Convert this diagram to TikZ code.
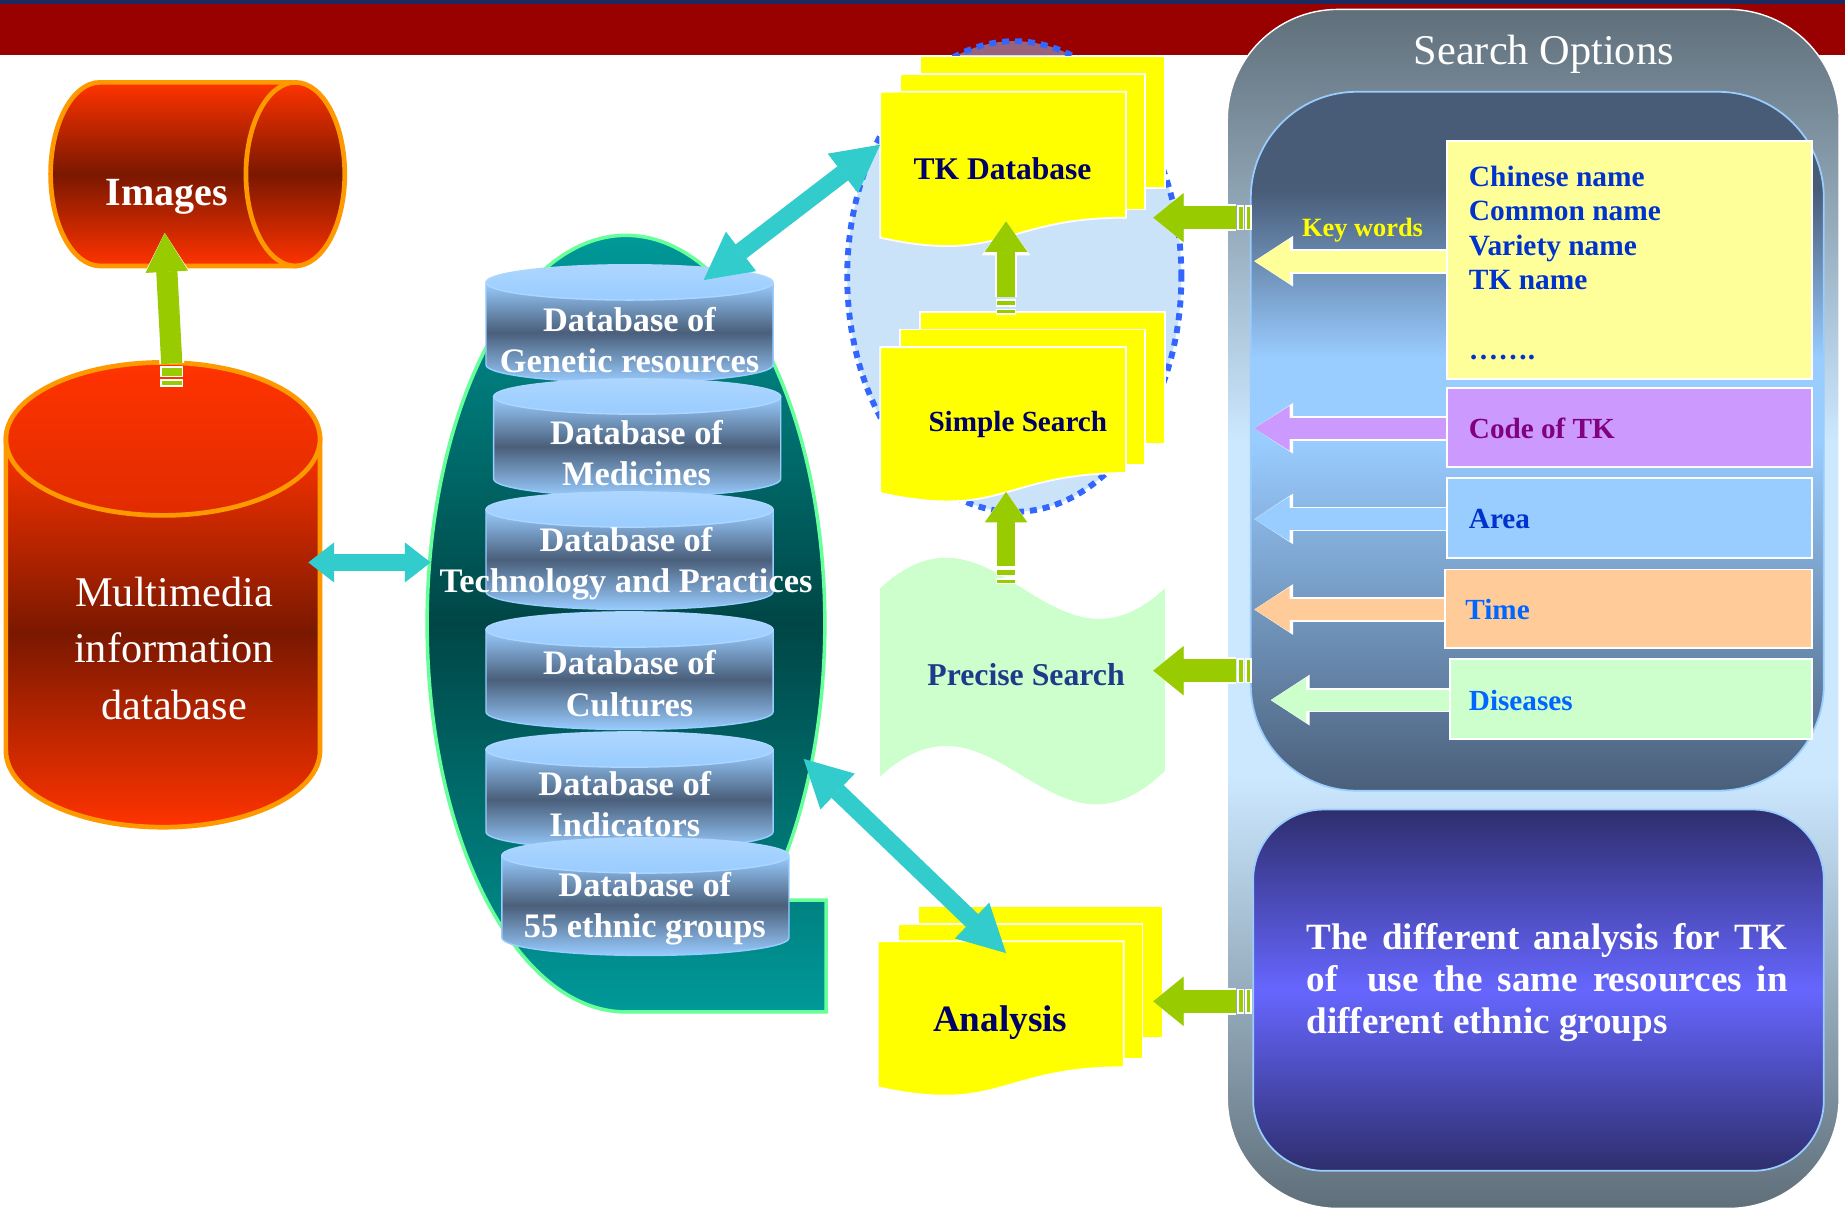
\documentclass[tikz,border=0pt]{standalone}
\usepackage{fontspec}
\setmainfont{Liberation Serif}
\usetikzlibrary{arrows.meta}

\definecolor{topnavy}{HTML}{1B2A5E}
\definecolor{barred}{HTML}{990000}
\definecolor{cylred}{HTML}{FF3300}
\definecolor{cyltop}{HTML}{E02C00}
\definecolor{cylbrown}{HTML}{7A1800}
\definecolor{cylorange}{HTML}{FF9900}
\definecolor{arrowgreen}{HTML}{99CC00}
\definecolor{arrowcyan}{HTML}{33CCCC}
\definecolor{ovteal}{HTML}{009999}
\definecolor{ovdark}{HTML}{004646}
\definecolor{ovgreen}{HTML}{66FF99}
\definecolor{dbblue}{HTML}{99CCFF}
\definecolor{dblight}{HTML}{ADD6FF}
\definecolor{dbslate}{HTML}{4A5F7A}
\definecolor{ringblue}{HTML}{3366FF}
\definecolor{ringfill}{HTML}{99C8F5}
\definecolor{docyellow}{HTML}{FFFF00}
\definecolor{docnavy}{HTML}{000066}
\definecolor{wavegreen}{HTML}{CCFFCC}
\definecolor{precnavy}{HTML}{1F3A8A}
\definecolor{optslate}{HTML}{5F6F7A}
\definecolor{optpale}{HTML}{CCE8FF}
\definecolor{panslate}{HTML}{485C78}
\definecolor{panblue}{HTML}{99CCFF}
\definecolor{lownavy}{HTML}{2E2E6E}
\definecolor{lowviolet}{HTML}{6666FF}
\definecolor{kwyellow}{HTML}{FFFF99}
\definecolor{codepurple}{HTML}{CC99FF}
\definecolor{areablue}{HTML}{99CCFF}
\definecolor{timeorange}{HTML}{FFCC99}
\definecolor{disgreen}{HTML}{CCFFCC}
\definecolor{listblue}{HTML}{0033CC}
\definecolor{brightblue}{HTML}{0066FF}
\definecolor{codetext}{HTML}{800080}

% the path box is the band from 25bp to 75bp
\pgfdeclareverticalshading{optshade}{100bp}{color(0bp)=(optslate); color(25bp)=(optslate);
  color(43bp)=(optpale); color(57bp)=(optpale); color(75bp)=(optslate); color(100bp)=(optslate)}
\pgfdeclareverticalshading{redshade}{100bp}{color(0bp)=(cylred); color(25bp)=(cylred);
  color(50bp)=(cylbrown); color(75bp)=(cylred); color(100bp)=(cylred)}
\pgfdeclareverticalshading{redtopshade}{100bp}{color(0bp)=(cyltop); color(25bp)=(cyltop);
  color(75bp)=(cylred); color(100bp)=(cylred)}
\pgfdeclareverticalshading{ovalshade}{100bp}{color(0bp)=(ovteal); color(25bp)=(ovteal);
  color(50bp)=(ovdark); color(75bp)=(ovteal); color(100bp)=(ovteal)}
\pgfdeclareverticalshading{drumshade}{100bp}{color(0bp)=(dbblue); color(25bp)=(dbblue);
  color(50bp)=(dbslate); color(75bp)=(dbblue); color(100bp)=(dbblue)}
\pgfdeclareverticalshading{drumtopshade}{100bp}{color(0bp)=(dbblue); color(25bp)=(dbblue);
  color(75bp)=(dblight); color(100bp)=(dblight)}
\pgfdeclareverticalshading{uppershade}{100bp}{color(0bp)=(dbslate); color(25bp)=(dbslate);
  color(50bp)=(panblue); color(56bp)=(panblue); color(68bp)=(panslate); color(100bp)=(panslate)}
\pgfdeclareverticalshading{lowershade}{100bp}{color(0bp)=(lownavy); color(25bp)=(lownavy);
  color(50bp)=(lowviolet); color(75bp)=(lownavy); color(100bp)=(lownavy)}

% one database drum: centre x, top y
\newcommand\dbdrum[2]{%
  \shadedraw[dbbody] (#1-122,#2+15) -- (#1-122,#2+85)
    arc[start angle=180,end angle=360,x radius=61pt,y radius=7.5pt] -- (#1+122,#2+15) -- cycle;
  \shadedraw[dbtop] (#1,#2+15) ellipse[x radius=61pt,y radius=7.5pt];
}
% three stacked sheets: top left corner of the front sheet
\newcommand\docstack[2]{%
  \begin{scope}[shift={(#1,#2)}]
    \filldraw[docsheet] (34,-30) rectangle (242,82);
    \filldraw[docsheet] (17,-15) rectangle (225,100);
    \filldraw[docsheet] (0,0) -- (209,0) -- (209,107)
      .. controls (104.5,107) and (104.5,147) .. (0,124) -- cycle;
  \end{scope}
}

\begin{document}
\begin{tikzpicture}[x=0.5pt,y=-0.5pt,
  redcyl/.style={shading=redshade,draw=cylorange,line width=2pt},
  redtop/.style={shading=redtopshade,draw=cylorange,line width=2pt},
  oval/.style={shading=ovalshade,draw=ovgreen,line width=1.5pt},
  dbbody/.style={shading=drumshade,draw=dbblue,line width=0.6pt},
  dbtop/.style={shading=drumtopshade,draw=dblight,line width=0.6pt},
  ring/.style={draw=ringblue,line width=2.5pt,dash pattern=on 3pt off 2.5pt,fill=ringfill,fill opacity=0.5},
  docsheet/.style={fill=docyellow,draw=white,line width=0.75pt},
  optbox/.style={fill=#1,draw=white,line width=0.75pt},
  stripe/.style={fill=arrowgreen,draw=white,line width=0.6pt},
  greenbig/.style={draw=arrowgreen,line width=9pt,-{Triangle[width=18pt,length=16.5pt,line width=0.4pt]},
    preaction={draw=white,line width=10.5pt,-{Triangle[width=20.5pt,length=18pt,line width=0.4pt]}}},
  greenmid/.style={draw=arrowgreen,line width=8pt,-{Triangle[width=18pt,length=13pt,line width=0.4pt]},
    preaction={draw=white,line width=9.5pt,-{Triangle[width=20.5pt,length=14.5pt,line width=0.4pt]}}},
  greenwide/.style={draw=arrowgreen,line width=10pt,-{Triangle[width=21pt,length=13pt,line width=0.4pt]},
    preaction={draw=white,line width=11.5pt,-{Triangle[width=23.5pt,length=14.5pt,line width=0.4pt]}}},
  optarrow/.style={draw=#1,line width=9pt,-{Triangle[width=19pt,length=15pt,line width=0.4pt]},
    preaction={draw=white,line width=10.5pt,-{Triangle[width=21.5pt,length=16.5pt,line width=0.4pt]}}},
  cyanshort/.style={draw=arrowcyan,line width=7.5pt,
    {Triangle[width=17pt,length=11pt,line width=0.4pt]}-{Triangle[width=17pt,length=11pt,line width=0.4pt]}},
  cyanlong/.style={draw=arrowcyan,line width=7.5pt,
    {Triangle[width=21pt,length=20pt,line width=0.4pt]}-{Triangle[width=21pt,length=20pt,line width=0.4pt]}},
  imgtext/.style={text=white,font=\fontsize{17}{20}\selectfont\bfseries},
  mmtext/.style={text=white,align=center,font=\fontsize{18}{24}\selectfont},
  dbtext/.style={text=white,align=center,font=\fontsize{14.6}{17.5}\selectfont\bfseries},
  doctext/.style={text=docnavy,font=\fontsize{13.4}{16}\selectfont\bfseries},
  prectext/.style={text=precnavy,font=\fontsize{13.5}{16}\selectfont\bfseries},
  anatext/.style={text=docnavy,font=\fontsize{15.8}{18}\selectfont\bfseries},
  opttitle/.style={text=white,font=\fontsize{18}{21}\selectfont},
  kwtext/.style={text=docyellow,font=\fontsize{11.2}{13}\selectfont\bfseries},
  listtext/.style={text=listblue,align=left,inner sep=0pt,font=\fontsize{12.5}{14.5}\selectfont\bfseries},
  optlabel/.style={anchor=west,inner sep=0pt,font=\fontsize{12.4}{14}\selectfont\bfseries},
  paratext/.style={text=white,text width=204.5pt,align=justify,inner sep=0pt,
    font=\fontsize{15.75}{18}\selectfont\bfseries}
  ]
  \useasboundingbox (0,0) rectangle (1568,1028);
  \fill[white] (0,0) rectangle (1568,1028);
  \fill[topnavy] (0,0) rectangle (1568,4);
  \fill[barred] (0,3) rectangle (1568,47);

  % images and multimedia
  \shadedraw[redcyl] (251,70) -- (85,70)
    arc[start angle=90,end angle=270,x radius=21pt,y radius=39pt] -- (251,226) -- cycle;
  \shadedraw[redcyl] (251,148) ellipse[x radius=21pt,y radius=39pt];
  \node[imgtext] (images) at (142,167) {Images};

  \shadedraw[redcyl] (5,373) -- (5,638)
    arc[start angle=180,end angle=360,x radius=66.75pt,y radius=32.5pt] -- (272,373) -- cycle;
  \shadedraw[redtop] (138.5,373) ellipse[x radius=66.75pt,y radius=32.5pt];
  \node[mmtext] (mmdb) at (148,551) {Multimedia\\information\\database};

  \coordinate (mmtop) at (146,309);
  \coordinate (imgbot) at (140,198);
  \draw[greenbig] (mmtop) -- (imgbot);
  \draw[stripe] (137,312) rectangle (155,320);
  \draw[stripe] (137,323) rectangle (155,328);

  % the databases
  \shadedraw[oval] (532,860)
    arc[start angle=270,end angle=-45.4,x radius=84.5pt,y radius=165pt] -- (702,765) -- (702,860) -- cycle;

  \coordinate (mmright) at (262,478);
  \coordinate (ovleft) at (366,478);
  \draw[cyanshort] (mmright) -- (ovleft);

  \dbdrum{535}{225}
  \node[dbtext] (genres) at (535,289) {Database of\\Genetic resources};
  \dbdrum{541.5}{322}
  \node[dbtext] (medic) at (541,385) {Database of\\Medicines};
  \dbdrum{535}{418}
  \node[dbtext] (techprac) at (532,479) {Database of\\Technology and Practices};
  \dbdrum{535}{520}
  \node[dbtext] (cultures) at (535,581) {Database of\\Cultures};
  \dbdrum{535}{622}
  \node[dbtext] (indic) at (531,683) {Database of\\Indicators};
  \dbdrum{548.5}{712}
  \node[dbtext] (ethnic) at (548,772) {Database of\\55 ethnic groups};

  % search and analysis
  \draw[ring] (862,235) ellipse[x radius=71pt,y radius=100pt];

  \docstack{748}{78}
  \node[doctext] (tkdb) at (852,143) {TK Database};
  \docstack{748}{295}
  \node[doctext,font=\fontsize{12.4}{15}\selectfont\bfseries] (simple) at (865,361) {Simple Search};

  \fill[wavegreen] (748,500) .. controls (845,410) and (893,590) .. (990,500) -- (990,655)
    .. controls (893,750) and (845,570) .. (748,660) -- cycle;
  \node[prectext] (precise) at (872,573) {Precise Search};

  \coordinate (simtop) at (855,252);
  \coordinate (tkbot) at (855,188);
  \draw[greenmid] (simtop) -- (tkbot);
  \draw[stripe] (847,255) rectangle (863,260);
  \draw[stripe] (847,263) rectangle (863,267);
  \coordinate (prectop) at (855,481);
  \coordinate (simbot) at (855,418);
  \draw[greenmid] (prectop) -- (simbot);
  \draw[stripe] (847,484) rectangle (863,489);
  \draw[stripe] (847,492) rectangle (863,496);

  \docstack{746}{800}
  \node[anatext] (analysis) at (850,869) {Analysis};

  \coordinate (genrestop) at (598,238);
  \coordinate (tkleft) at (748,123);
  \draw[cyanlong] (genrestop) -- (tkleft);
  \coordinate (ovright) at (683,645);
  \coordinate (anatop) at (855,810);
  \draw[cyanlong] (ovright) -- (anatop);

  % search options
  \shadedraw[shading=optshade,draw=white,line width=0.6pt,rounded corners=47pt] (1043,8) rectangle (1563,1027);
  \node[opttitle] (searchopt) at (1312,46) {Search Options};
  \shadedraw[shading=uppershade,draw=panblue,line width=0.75pt,rounded corners=45pt] (1063,78) rectangle (1550,672);
  \shadedraw[shading=lowershade,draw=panblue,line width=0.75pt,rounded corners=30pt] (1065,688) rectangle (1550,995);

  \coordinate (kwtail) at (1240,222);
  \coordinate (kwtip) at (1066,222);
  \draw[optarrow=kwyellow] (kwtail) -- (kwtip);
  \coordinate (codetail) at (1240,364);
  \coordinate (codetip) at (1066,364);
  \draw[optarrow=codepurple] (codetail) -- (codetip);
  \coordinate (areatail) at (1240,441);
  \coordinate (areatip) at (1066,441);
  \draw[optarrow=areablue] (areatail) -- (areatip);
  \coordinate (timetail) at (1240,518);
  \coordinate (timetip) at (1066,518);
  \draw[optarrow=timeorange] (timetail) -- (timetip);
  \coordinate (distail) at (1240,595);
  \coordinate (distip) at (1080,595);
  \draw[optarrow=disgreen] (distail) -- (distip);

  \draw[optbox=kwyellow] (1230,120) rectangle (1540,322);
  \draw[optbox=codepurple] (1230,330) rectangle (1540,397);
  \draw[optbox=areablue] (1230,406) rectangle (1540,474);
  \draw[optbox=timeorange] (1228,484) rectangle (1540,551);
  \draw[optbox=disgreen] (1232,560) rectangle (1540,628);

  \node[kwtext] (keywords) at (1158,196) {Key words};
  \node[listtext,anchor=north west] (namelist) at (1248,141)
    {Chinese name\\Common name\\Variety name\\TK name\\[15.5pt]…….};
  \node[optlabel,text=codetext] (codetk) at (1248,364) {Code of TK};
  \node[optlabel,text=listblue] (area) at (1248,441) {Area};
  \node[optlabel,text=brightblue] (time) at (1245,518) {Time};
  \node[optlabel,text=brightblue] (diseases) at (1248,595) {Diseases};
  \node[paratext,anchor=north west] (diffana) at (1110,784)
    {The different analysis for TK of~ use the same resources in different ethnic groups};

  \coordinate (optkw) at (1050,185);
  \coordinate (tkright) at (980,185);
  \draw[greenwide] (optkw) -- (tkright);
  \draw[stripe] (1052,175) rectangle (1057,195);
  \draw[stripe] (1059,175) rectangle (1063,195);
  \coordinate (optprec) at (1050,570);
  \coordinate (precright) at (980,570);
  \draw[greenwide] (optprec) -- (precright);
  \draw[stripe] (1052,560) rectangle (1057,580);
  \draw[stripe] (1059,560) rectangle (1063,580);
  \coordinate (optana) at (1050,851);
  \coordinate (anaright) at (980,851);
  \draw[greenwide] (optana) -- (anaright);
  \draw[stripe] (1052,841) rectangle (1057,861);
  \draw[stripe] (1059,841) rectangle (1063,861);
\end{tikzpicture}
\end{document}
